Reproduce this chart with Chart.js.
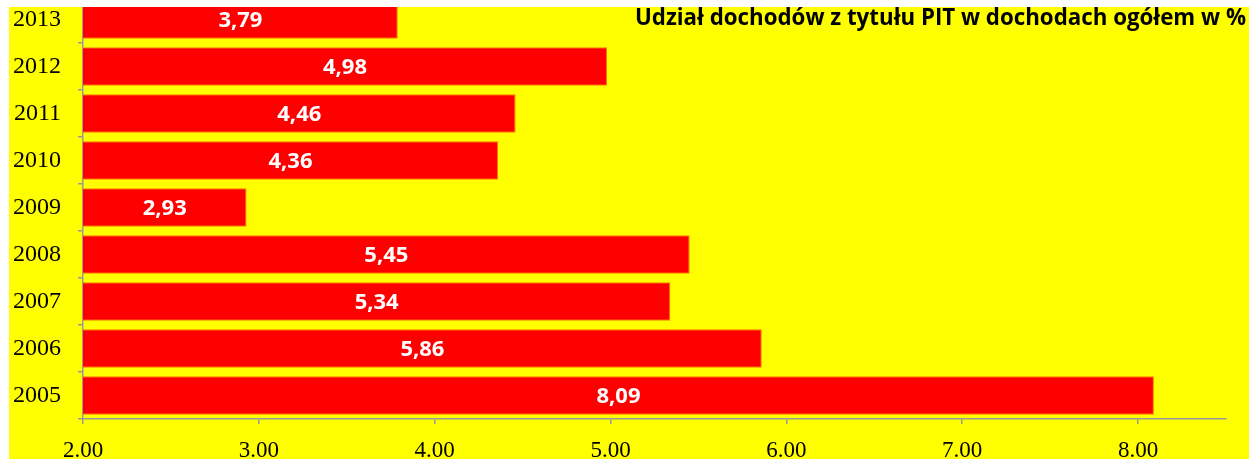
<!DOCTYPE html>
<html>
<head>
<meta charset="utf-8">
<script src="https://cdn.jsdelivr.net/npm/chart.js@4"></script>
<style>
  html, body { margin: 0; padding: 0; background: #fff; overflow: hidden; }
  #frame {
    position: absolute; left: 9px; top: 7px; width: 1240px; height: 452px;
    background: #ffff00; overflow: hidden;
  }
  #wrap { position: absolute; left: 0; top: -11px; width: 1240px; height: 463px; }
</style>
</head>
<body>
<div id="frame"><div id="wrap"><canvas id="pitChart"></canvas></div></div>
<script>
const years = ["2013", "2012", "2011", "2010", "2009", "2008", "2007", "2006", "2005"];
const pitShare = [3.79, 4.98, 4.46, 4.36, 2.93, 5.45, 5.34, 5.86, 8.09];
const xTicks = [2, 3, 4, 5, 6, 7, 8];
const xMin = 2;
const xMax = 8.5;
const chartTitle = "Udział dochodów z tytułu PIT w dochodach ogółem w %";

// white value labels inside the bars, Polish decimal comma
const barLabels = {
  id: "barLabels",
  afterDatasetsDraw(chart) {
    const ctx = chart.ctx;
    const meta = chart.getDatasetMeta(0);
    const x0 = chart.scales.x.getPixelForValue(xMin);
    ctx.save();
    ctx.fillStyle = "#ffffff";
    ctx.font = "bold 22px 'Open Sans'";
    ctx.textAlign = "center";
    ctx.textBaseline = "middle";
    meta.data.forEach((bar, i) => {
      ctx.fillText(pitShare[i].toFixed(2).replace(".", ","), (bar.x + x0) / 2, bar.y + 1);
    });
    ctx.restore();
  }
};

const cornerTitle = {
  id: "cornerTitle",
  afterDraw(chart) {
    const ctx = chart.ctx;
    ctx.save();
    ctx.fillStyle = "#000000";
    ctx.font = "bold 22.3px 'Open Sans'";
    ctx.textAlign = "right";
    ctx.textBaseline = "alphabetic";
    ctx.fillText(chartTitle, 1237, 29);
    ctx.restore();
  }
};

new Chart(document.getElementById("pitChart").getContext("2d"), {
  type: "bar",
  data: {
    labels: years,
    datasets: [{
      data: pitShare,
      backgroundColor: "#ff0000",
      borderColor: "#ff7a00",
      borderWidth: 1,
      borderSkipped: false,
      categoryPercentage: 1.0,
      barPercentage: 0.82
    }]
  },
  options: {
    indexAxis: "y",
    responsive: true,
    maintainAspectRatio: false,
    animation: false,
    layout: { padding: { top: 0, right: 23, left: 0, bottom: 0 } },
    plugins: { legend: { display: false }, tooltip: { enabled: false } },
    scales: {
      x: {
        min: xMin,
        max: xMax,
        afterBuildTicks: (axis) => { axis.ticks = xTicks.map(v => ({ value: v })); },
        afterFit: (axis) => { axis.height = 40; axis.paddingLeft = 0; axis.paddingRight = 0; },
        border: { display: true, color: "#9a9a9a", width: 1.5 },
        grid: { drawOnChartArea: false, drawTicks: true, tickLength: 5, color: "#9a9a9a", lineWidth: 1.5 },
        ticks: {
          color: "#000000",
          font: { family: "'Liberation Serif'", size: 23 },
          padding: 13,
          maxRotation: 0,
          callback: (v) => Number(v).toFixed(2)
        }
      },
      y: {
        afterFit: (axis) => { axis.width = 74; axis.paddingTop = 0; axis.paddingBottom = 0; },
        border: { display: true, color: "#9a9a9a", width: 1.5 },
        grid: { offset: true, drawOnChartArea: false, drawTicks: true, tickLength: 5, color: "#9a9a9a", lineWidth: 1.5 },
        ticks: {
          color: "#000000",
          font: { family: "'Liberation Serif'", size: 24 },
          padding: 17
        }
      }
    }
  },
  plugins: [barLabels, cornerTitle]
});
</script>
</body>
</html>
